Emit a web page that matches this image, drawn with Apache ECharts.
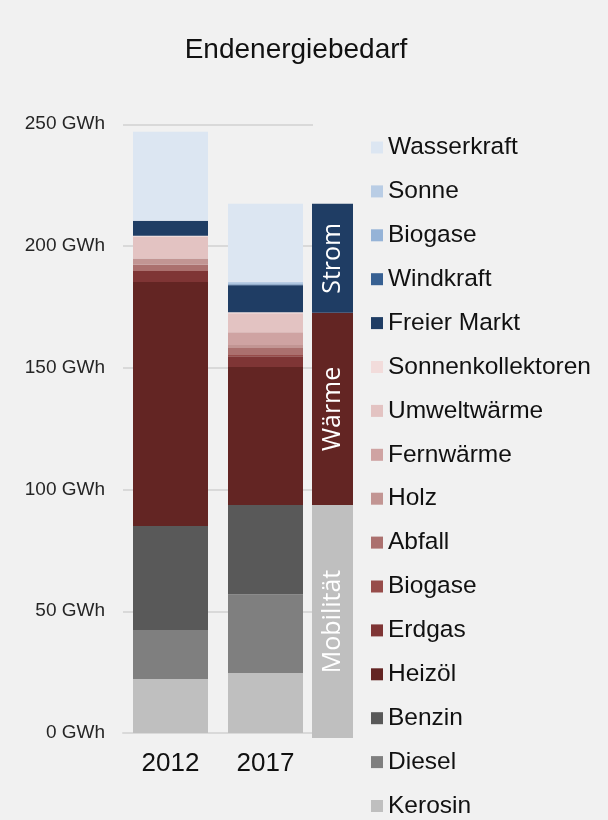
<!DOCTYPE html>
<html>
<head>
<meta charset="utf-8">
<script src="https://cdn.jsdelivr.net/npm/echarts@6/dist/echarts.min.js"></script>
<style>
  html, body { margin: 0; padding: 0; background: #f1f1f1; }
  #chart { width: 608px; height: 820px; }
</style>
</head>
<body>
<div id="chart"></div>
<script>
// Stapelreihenfolge von unten nach oben
const years = ['2012', '2017'];
const seriesNames = ['Kerosin', 'Diesel', 'Benzin', 'Heizöl', 'Erdgas', 'Biogase (Wärme)', 'Abfall', 'Holz',
  'Fernwärme', 'Umweltwärme', 'Sonnenkollektoren', 'Freier Markt', 'Windkraft', 'Biogase (Strom)', 'Sonne', 'Wasserkraft'];
const colors = ['#bfbfbf', '#7f7f7f', '#595959', '#632523', '#7f3535', '#974c4a', '#ab706e', '#c29593',
  '#cfa3a2', '#e3c3c2', '#f2dcdb', '#1f3d64', '#376092', '#95b3d7', '#b9cde5', '#dce6f2'];
const values2012 = [22.2, 20.1, 42.7, 100.2, 4.5, 0, 2.6, 2.6, 0, 9.0, 0.3, 6.2, 0, 0, 0, 36.5];
const values2017 = [24.6, 32.4, 36.6, 56.7, 4.4, 0.5, 2.9, 1.2, 5.3, 7.8, 0.4, 11.1, 0.3, 0.5, 0.6, 32.0];

// Gruppenbalken rechts (2017)
const groupNames = ['Mobilität', 'Wärme', 'Strom'];
const groupValues = [95.7, 78.9, 44.8];
const groupColors = ['#bfbfbf', '#632523', '#1f3d64'];

const chart = echarts.init(document.getElementById('chart'));

let series = seriesNames.map((name, i) => ({
  name: name,
  type: 'bar',
  stack: 'energie',
  barWidth: 75,
  xAxisIndex: 0,
  yAxisIndex: 0,
  itemStyle: { color: colors[i] },
  data: [values2012[i], values2017[i]]
}));

groupNames.forEach((name, i) => {
  series.push({
    name: name,
    type: 'bar',
    stack: 'gruppe',
    barWidth: 41,
    xAxisIndex: 1,
    yAxisIndex: 1,
    itemStyle: { color: groupColors[i] },
    label: {
      show: true,
      position: 'inside',
      rotate: 90,
      formatter: name,
      color: '#ffffff',
      fontFamily: 'Open Sans',
      fontSize: 25
    },
    data: [groupValues[i]]
  });
});

let option = {
  backgroundColor: '#f1f1f1',
  animation: false,
  title: {
    text: 'Endenergiebedarf',
    left: 291,
    textAlign: 'center',
    top: 31,
    textStyle: { fontFamily: 'Liberation Sans', fontSize: 28, fontWeight: 'normal', color: '#111111' }
  },
  legend: {
    orient: 'vertical',
    left: 371,
    top: 135,
    height: 685,
    padding: 0,
    icon: 'rect',
    itemWidth: 12,
    itemHeight: 12,
    itemGap: 18.9,
    data: seriesNames.slice().reverse(),
    formatter: name => name.replace(/ \(.*\)$/, ''),
    textStyle: { fontFamily: 'Liberation Sans', fontSize: 24.5, lineHeight: 24, color: '#111111' }
  },
  grid: [
    { left: 123, width: 190, top: 124.25, bottom: 87 },
    { left: 312, width: 41, top: 129.25, bottom: 82 }
  ],
  xAxis: [
    {
      type: 'category',
      gridIndex: 0,
      data: years,
      axisLine: { lineStyle: { color: '#d9d9d9', width: 2 } },
      axisTick: { show: false },
      axisLabel: { margin: 18, fontFamily: 'Liberation Sans', fontSize: 26, color: '#111111' }
    },
    {
      type: 'category',
      gridIndex: 1,
      data: [''],
      show: false
    }
  ],
  yAxis: [
    {
      type: 'value',
      gridIndex: 0,
      min: 0,
      max: 250,
      interval: 50,
      axisLine: { show: false },
      axisTick: { show: false },
      splitLine: { lineStyle: { color: '#d9d9d9', width: 2 } },
      axisLabel: { margin: 18, formatter: '{value} GWh', fontFamily: 'Liberation Sans', fontSize: 19, color: '#262626' }
    },
    {
      type: 'value',
      gridIndex: 1,
      min: 0,
      max: 250,
      show: false
    }
  ],
  series: series
};

chart.setOption(option);
</script>
</body>
</html>
